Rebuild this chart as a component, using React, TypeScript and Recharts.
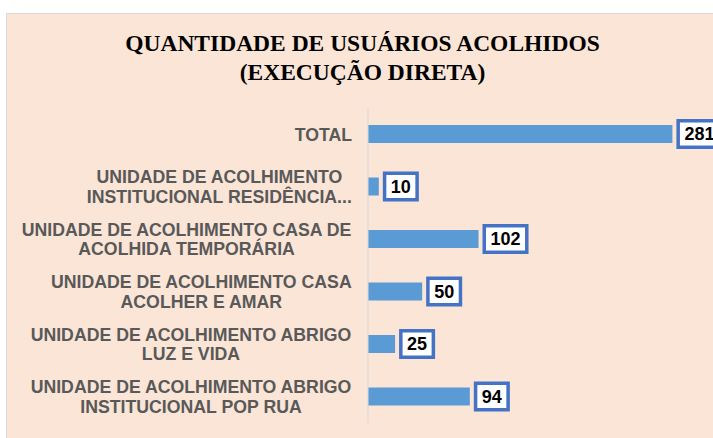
import { BarChart, Bar, XAxis, YAxis, LabelList } from 'recharts';

// Quantidade de usuários acolhidos (execução direta)
const categories = [
  'TOTAL',
  'UNIDADE DE ACOLHIMENTO\nINSTITUCIONAL RESIDÊNCIA...',
  'UNIDADE DE ACOLHIMENTO CASA DE\nACOLHIDA TEMPORÁRIA',
  'UNIDADE DE ACOLHIMENTO CASA\nACOLHER E AMAR',
  'UNIDADE DE ACOLHIMENTO ABRIGO\nLUZ E VIDA',
  'UNIDADE DE ACOLHIMENTO ABRIGO\nINSTITUCIONAL POP RUA',
];
const usuarios = [281, 10, 102, 50, 25, 94];
const axisMax = 300;

const data = categories.map((name, i) => ({ name, usuarios: usuarios[i] }));

const SANS = '"Liberation Sans", Arial, sans-serif';
const LABEL_FONT = `bold 17.7px ${SANS}`;
const VALUE_FONT = `bold 18px ${SANS}`;

let ctx: CanvasRenderingContext2D | null = null;
function textWidth(s: string, font: string) {
  if (!ctx) ctx = document.createElement('canvas').getContext('2d');
  if (!ctx) return s.length * 10;
  ctx.font = font;
  return ctx.measureText(s).width;
}

function CategoryTick({ x, y, payload }: any) {
  const lines = String(payload.value).split('\n');
  const blockW = Math.max(...lines.map((l) => textWidth(l, LABEL_FONT)));
  const cx = x - blockW / 2;
  const lh = 19.5;
  const y0 = y - ((lines.length - 1) * lh) / 2;
  return (
    <g>
      {lines.map((l, i) => (
        <text
          key={i}
          x={cx}
          y={y0 + i * lh}
          dy="0.36em"
          textAnchor="middle"
          fill="#595959"
          style={{ font: LABEL_FONT }}
        >
          {l}
        </text>
      ))}
    </g>
  );
}

function ValueBox(props: any) {
  const { x, y, width, height, value } = props;
  const tw = textWidth(String(value), VALUE_FONT);
  const w = tw + 16;
  const h = 30;
  const bx = x + width + 4;
  const cy = y + height / 2;
  return (
    <g>
      <rect x={bx + 1.75} y={cy - h / 2 + 1.75} width={w - 3.5} height={h - 3.5} fill="#ffffff" stroke="#4472C4" strokeWidth={3.5} />
      <text x={bx + w / 2} y={cy} dy="0.36em" textAnchor="middle" fill="#000000" style={{ font: VALUE_FONT }}>
        {value}
      </text>
    </g>
  );
}

export default function App() {
  return (
    <div style={{ position: 'absolute', left: 0, top: 0, width: 713, height: 438, overflow: 'hidden', background: '#ffffff' }}>
      <div
        style={{
          position: 'absolute',
          left: 6,
          top: 13,
          width: 714,
          height: 440,
          background: '#FBE5D6',
          border: '1px solid #D9D9D9',
          boxSizing: 'border-box',
        }}
      />
      <div
        style={{
          position: 'absolute',
          left: 6,
          top: 29,
          width: 713,
          textAlign: 'center',
          fontFamily: '"Liberation Serif", "Times New Roman", serif',
          fontWeight: 'bold',
          fontSize: 23.5,
          lineHeight: '29px',
          color: '#000000',
        }}
      >
        QUANTIDADE DE USUÁRIOS ACOLHIDOS
        <br />
        (EXECUÇÃO DIRETA)
      </div>
      <div style={{ position: 'absolute', left: 0, top: 0 }}>
        <BarChart
          width={713}
          height={438}
          data={data}
          layout="vertical"
          margin={{ top: 108, right: 20, bottom: 15, left: 8 }}
        >
          <XAxis type="number" domain={[0, axisMax]} hide />
          <YAxis
            type="category"
            dataKey="name"
            width={360}
            tickSize={0}
            tickMargin={16}
            tickLine={false}
            axisLine={{ stroke: '#D9D9D9', strokeWidth: 1 }}
            tick={<CategoryTick />}
            interval={0}
          />
          <Bar dataKey="usuarios" fill="#5B9BD5" barSize={18} isAnimationActive={false}>
            <LabelList dataKey="usuarios" content={<ValueBox />} />
          </Bar>
        </BarChart>
      </div>
    </div>
  );
}
